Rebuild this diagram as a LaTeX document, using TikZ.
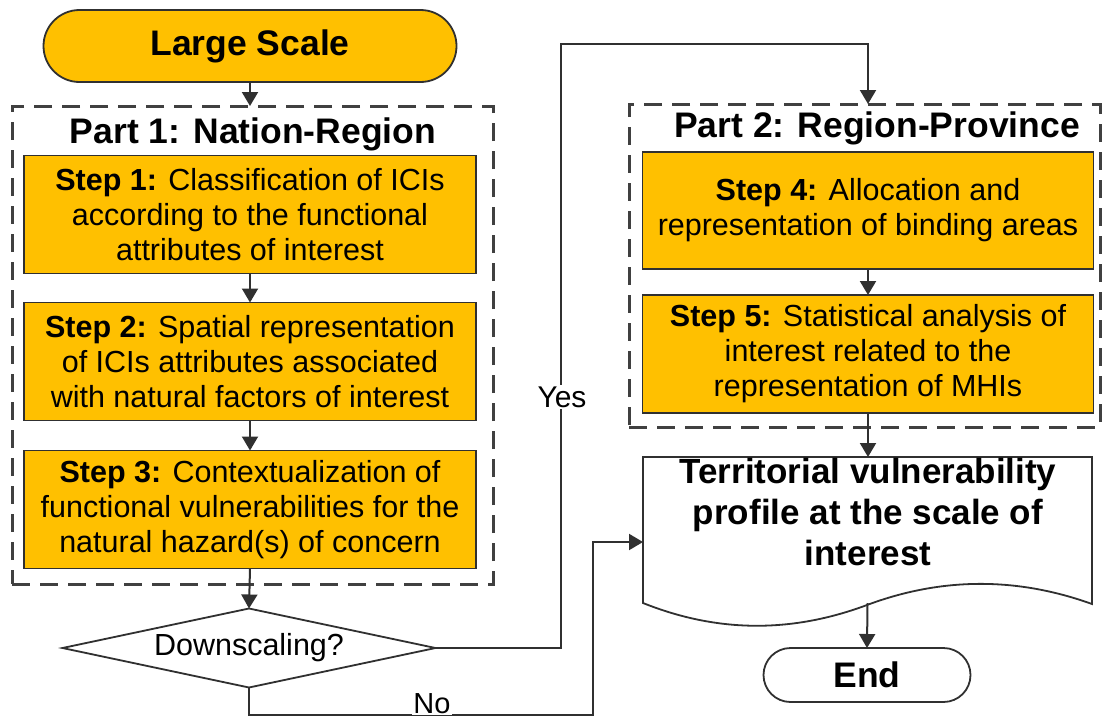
\documentclass[tikz,border=0pt]{standalone}
\usepackage{fontspec}
\setmainfont{Liberation Sans}
\usetikzlibrary{shapes.geometric,arrows.meta,calc}
\definecolor{gold}{HTML}{FFC000}
\definecolor{edge}{HTML}{303030}
\begin{document}
\begin{tikzpicture}[x=1pt,y=-1pt,
  every node/.style={inner sep=0pt, outer sep=0pt},
  conn/.style={draw=edge, line width=2pt, -{Triangle[length=14pt,width=16pt]}},
  stepbox/.style={draw=edge, line width=1.8pt, fill=gold, minimum width=452pt, minimum height=118pt, align=center, font=\fontsize{30.5}{35}\selectfont},
  partbox/.style={draw=black!75, line width=3pt, dash pattern=on 18pt off 10pt},
  titletext/.style={font=\bfseries\fontsize{35.5}{41}\selectfont, anchor=base},
  labeltext/.style={fill=white, inner sep=1.5pt, font=\fontsize{30}{35}\selectfont},
  terminal/.style={draw=edge, line width=1.8pt, align=center, font=\bfseries\fontsize{35.5}{41}\selectfont}
]
\useasboundingbox (0,0) rectangle (1102,720);
\fill[white] (0,0) rectangle (1102,720);

% dashed part boxes
\node[partbox, minimum width=481pt, minimum height=478pt] (p1) at (252.5,345) {};
\node[partbox, minimum width=471pt, minimum height=323pt] (p2) at (864.5,265.5) {};
\node[titletext] (t1) at (253,143) {Part 1: Nation-Region};
\node[titletext] (t2) at (877,137) {Part 2: Region-Province};

% left column
\node[terminal, fill=gold, rounded corners=36pt, minimum width=413pt, minimum height=72pt] (ls) at (250,46) {Large Scale};
\node[stepbox] (s1) at (250,214.5) {\textbf{Step 1:} Classification of ICIs\\according to the functional\\attributes of interest};
\node[stepbox] (s2) at (250,361.5) {\textbf{Step 2:} Spatial representation\\of ICIs attributes associated\\with natural factors of interest};
\node[stepbox] (s3) at (250,509.5) {\textbf{Step 3:} Contextualization of\\functional vulnerabilities for the\\natural hazard(s) of concern};
\node[draw=edge, line width=1.8pt, shape=diamond, shape aspect=4.7, minimum width=373pt, minimum height=79pt, font=\fontsize{30.5}{35}\selectfont] (dia) at (249,648) {Downscaling?};

% right column
\node[stepbox, minimum width=451pt, minimum height=117pt] (s4) at (868,210.5) {\textbf{Step 4:} Allocation and\\representation of binding areas};
\node[stepbox, minimum width=451pt, minimum height=118pt] (s5) at (868,354) {\textbf{Step 5:} Statistical analysis of\\interest related to the\\representation of MHIs};
\node[minimum width=449pt, minimum height=146pt] (doc) at (867.5,530) {};
\draw[draw=edge, line width=1.8pt, fill=white] (doc.north west) -- (doc.north east) -- (1092,604)
  .. controls (1017,577) and (942,577) .. (867,605)
  .. controls (792,633) and (718,633) .. (643,603) -- cycle;
\node[font=\bfseries\fontsize{35}{41}\selectfont, align=center] (doctext) at (868,512) {Territorial vulnerability\\profile at the scale of\\interest};
\node[terminal, fill=white, rounded corners=27pt, minimum width=207pt, minimum height=54pt] (end) at (867,675) {End};

% connectors
\draw[conn] (ls.south) -- (ls.south |- p1.north);
\draw[conn] (s1.south) -- (s2.north);
\draw[conn] (s2.south) -- (s3.north);
\draw[conn] (s3.south) -- (dia.north);
\draw[conn] (s4.south) -- (s5.north);
\draw[conn] (s5.south) -- (doc.north -| s5.south);
\draw[conn] (doc.south) -- (end.north);

\coordinate (ytop) at (561,44);
\draw[conn] (dia.east) -| (ytop) -| (s4.north |- p2.north);
\node[labeltext, anchor=base] (yes) at (562,407) {Yes};

\coordinate (nbot) at (593,715);
\coordinate (ntop) at (593,542);
\draw[conn] (dia.south) |- (nbot) -- (ntop) -- (ntop -| doc.west);
\node[labeltext, anchor=base, font=\fontsize{29}{33}\selectfont] (no) at (432,713) {No};
\end{tikzpicture}
\end{document}
